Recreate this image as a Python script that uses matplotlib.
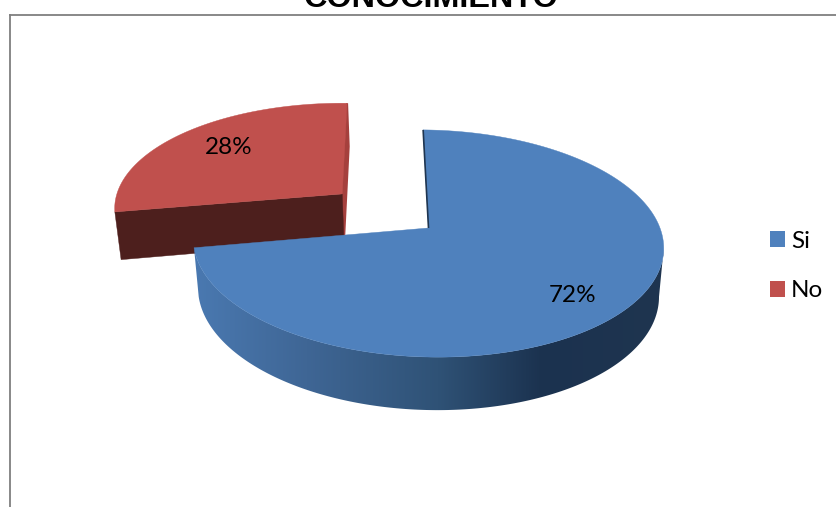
import numpy as np
import matplotlib
matplotlib.use('Agg')
import matplotlib.pyplot as plt
from matplotlib.patches import Patch, Polygon
from matplotlib.colors import LinearSegmentedColormap

title = 'CONOCIMIENTO'
categories = ['Si', 'No']
values = [72, 28]
colors = ['#4F81BD', '#C0504D']
explode = [0.0, 0.49]

# pie placement, pixels
cx, cy = 428.5, 228
rx, ry = 233, 111.4
persp = 0.1366
depth = 48
shrink = 0.98
skew = 0.02
start = -1.5

side_cmap = LinearSegmentedColormap.from_list(
    'side', [(0, '#4A79B1'), (0.24, '#3F6695'), (0.52, '#2F5276'), (0.74, '#1B324F'), (1, '#1F3550')])


def project(u, v, z=0.0):
    # perspective: the far edge of the disc is smaller, the base slightly narrower
    w = 1 + persp * v
    s = 1 - (1 - shrink) * z
    x = rx * u * s / w
    return cx + x, cy - (ry * v * s - depth * z) / w + skew * x


def rim(theta, off, z=0.0):
    t = np.radians(theta)
    return project(np.sin(t) + off[0], np.cos(t) + off[1], z)


fig = plt.figure(figsize=(8.37, 5.07), dpi=100)
ax = fig.add_axes([0, 0, 1, 1])
ax.axis('off')

# chart frame, only top and left show
ax.plot([10.5, 837], [14.5, 14.5], color='#7F7F7F', lw=1.3, zorder=1)
ax.plot([10.5, 10.5], [14.5, 507], color='#7F7F7F', lw=1.3, zorder=1)
ax.text(431, 7, title, family='Liberation Sans', weight='bold', fontsize=23.3,
        ha='center', va='baseline', zorder=2, clip_on=False)

sweeps = np.array(values) * 3.6
a_start = start + np.concatenate([[0], np.cumsum(sweeps)[:-1]])
a_end = a_start + sweeps

# exploded slice, behind the big one
a0, a1 = a_start[1], a_end[1]
mid = np.radians((a0 + a1) / 2)
off = (explode[1] * np.sin(mid), explode[1] * np.cos(mid))
apex = project(off[0], off[1])
apex_low = project(off[0], off[1], 1)
e0, e0_low = rim(a0, off), rim(a0, off, 1)
e1, e1_low = rim(a1, off), rim(a1, off, 1)
ax.fill([apex[0], e1[0], e1_low[0], apex_low[0]], [apex[1], e1[1], e1_low[1], apex_low[1]],
        color='#A5403D', lw=1.5, zorder=3)
ax.fill([apex[0], e0[0], e0_low[0], apex_low[0]], [apex[1], e0[1], e0_low[1], apex_low[1]],
        color='#4D1F1D', lw=0.3, zorder=4)
th = np.linspace(a0, a1, 120)
xs, ys = rim(th, off)
ax.fill(np.r_[apex[0], xs], np.r_[apex[1], ys], color=colors[1], lw=0.3, zorder=5)

# side wall of the big slice, horizontal gradient clipped to its outline
a0, a1 = a_start[0], a_end[0]
th = np.linspace(a1, a1 - sweeps[0], 400)
xt, yt = rim(th, (0, 0))
xb, yb = rim(th, (0, 0), 1)
# outline runs straight between the rightmost points of the two rims
it, ib = np.argmax(xt), np.argmax(xb)
wall = Polygon(np.c_[np.r_[xt[:it + 1], xb[ib::-1]], np.r_[yt[:it + 1], yb[ib::-1]]], closed=True,
               transform=ax.transData, facecolor='none', edgecolor='none')
ax.add_patch(wall)
grad = ax.imshow(np.linspace(0, 1, 256)[None, :], cmap=side_cmap, aspect='auto', zorder=6,
                 extent=[xt.min() - 1, xt.max() + 1, yb.max() + 2, yt.min() - 2], interpolation='bilinear')
grad.set_clip_path(wall)

ax0, ay0 = project(0, 0)
th = np.linspace(a0, a1, 300)
xs, ys = rim(th, (0, 0))
ax.fill(np.r_[ax0, xs], np.r_[ay0, ys], color=colors[0], lw=0.3, zorder=7)

# thin dark edge where the slice starts
ax.plot([ax0, xs[0]], [ay0, ys[0]], color='#1F3550', lw=1.2, zorder=8, solid_capstyle='butt')

label_xy = [(573, 296), (229, 148)]
for v, (lx, ly) in zip(values, label_xy):
    ax.text(lx, ly, '%d%%' % v, family='Lato', fontsize=17.5, ha='center', va='center', zorder=9)

ax.set_xlim(0, 837)
ax.set_ylim(507, 0)

handles = [Patch(facecolor=c, edgecolor='none') for c in colors]
ax.legend(handles, categories, loc='center left', bbox_to_anchor=(770 / 837, 1 - 266 / 507),
          frameon=False, handlelength=0.62, handleheight=0.62, handletextpad=0.25,
          labelspacing=1.17, borderpad=0, borderaxespad=0,
          prop={'family': 'Lato', 'size': 17.5})

fig.savefig('out.png', dpi=100)
